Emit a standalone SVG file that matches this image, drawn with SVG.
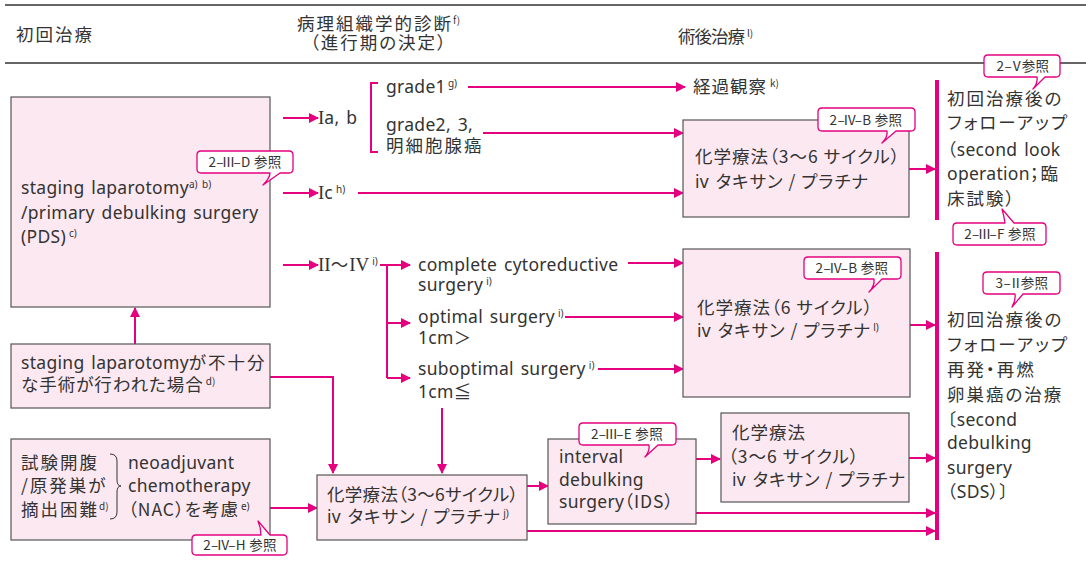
<svg xmlns="http://www.w3.org/2000/svg" width="1086" height="563" viewBox="0 0 1086 563">
<defs>
<style>
text{font-family:"Noto Sans","Noto Sans CJK JP",sans-serif;font-size:17.5px;letter-spacing:0.3px;word-spacing:2px;fill:#333}
.jp{font-family:"Noto Sans CJK JP",sans-serif;font-feature-settings:"palt";letter-spacing:1px;word-spacing:0}
.jw{letter-spacing:2px}
.rn{font-family:"Liberation Serif",serif;font-size:19px;letter-spacing:0}
.sup{font-size:10px;letter-spacing:0}
.co{font-family:"Noto Sans CJK JP",sans-serif;font-feature-settings:"palt";font-size:13.5px;letter-spacing:0.3px;word-spacing:0;fill:#333;text-anchor:middle}
.box{fill:#fce8f0;stroke:#555;stroke-width:1.2}
.callout{fill:#fff;stroke:#e4007f;stroke-width:1.3;stroke-linejoin:round}
.ln{fill:none;stroke:#e4007f;stroke-width:2}
.bar{fill:none;stroke:#e4007f;stroke-width:4}
.arr{marker-end:url(#ah)}
.rule{stroke:#333;fill:none}
</style>
<marker id="ah" viewBox="0 0 10 10" refX="9" refY="5" markerWidth="5" markerHeight="5" orient="auto" markerUnits="strokeWidth">
<path d="M0,0 L10,5 L0,10 Z" fill="#e4007f"/>
</marker>
</defs>
<rect width="1086" height="563" fill="#fff"/>

<g id="header">
<line class="rule" x1="5" y1="5" x2="1086" y2="5" stroke-width="2" style="stroke:#666"/>
<line class="rule" x1="5" y1="63" x2="1086" y2="63" stroke-width="1.3"/>
<text class="jp jw" x="16" y="41">初回治療</text>
<text class="jp jw" x="297" y="30">病理組織学的診断<tspan class="sup" dy="-6">f)</tspan></text>
<text class="jp jw" x="310" y="49">（進行期の決定）</text>
<text class="jp" x="678" y="43" style="letter-spacing:-1px">術後治療<tspan class="sup" dy="-6" dx="3">l)</tspan></text>
</g>

<g id="connectors">
<path class="ln arr" d="M283,118 H318"/>
<path class="ln arr" d="M283,193 H318"/>
<path class="ln arr" d="M283,265 H318"/>
<path class="ln" d="M378,83 H371 V152 H378"/>
<path class="ln arr" d="M468,87 H685"/>
<path class="ln arr" d="M483,133 H683"/>
<path class="ln arr" d="M358,193 H683"/>
<path class="ln arr" d="M909,169 H935"/>
<path class="ln arr" d="M380,265 H410"/>
<path class="ln" d="M387,265 V378"/>
<path class="ln arr" d="M387,323 H410"/>
<path class="ln arr" d="M387,378 H410"/>
<path class="ln arr" d="M628,263 H683"/>
<path class="ln arr" d="M565,317 H683"/>
<path class="ln arr" d="M598,369 H683"/>
<path class="ln arr" d="M910,325 H935"/>
<path class="ln arr" d="M135,344 V308"/>
<path class="ln arr" d="M270,377 H333 V473"/>
<path class="ln arr" d="M442,408 V473"/>
<path class="ln arr" d="M270,508 H317"/>
<path class="ln arr" d="M527,486 H548"/>
<path class="ln arr" d="M696,459 H720"/>
<path class="ln arr" d="M909,458 H935"/>
<path class="ln arr" d="M696,513 H935"/>
<path class="ln arr" d="M527,531 H935"/>
<path class="bar" d="M937,80 V220"/>
<path class="bar" d="M937,252 V540"/>
</g>

<g id="node-pds">
<rect class="box" x="11" y="97" width="259" height="210"/>
<text x="21" y="194">staging laparotomy<tspan class="sup" dy="-6">a) b)</tspan></text>
<text x="21" y="219">/primary debulking surgery</text>
<text x="21" y="243">(PDS)<tspan class="sup" dy="-6" dx="3">c)</tspan></text>
</g>

<g id="node-insufficient">
<rect class="box" x="11" y="344" width="259" height="64"/>
<text x="21" y="369">staging laparotomy<tspan class="jp jw">が不十分</tspan></text>
<text class="jp" x="21" y="391">な手術が行われた場合<tspan class="sup" dy="-6" dx="2">d)</tspan></text>
</g>

<g id="node-nac">
<rect class="box" x="11" y="439" width="259" height="101"/>
<text class="jp jw" x="21" y="469">試験開腹</text>
<text class="jp jw" x="21" y="492">/原発巣が</text>
<text class="jp jw" x="21" y="516">摘出困難<tspan class="sup" dy="-6">d)</tspan></text>
<path d="M110,454 Q117,454 117,461 V480 Q117,486 121,486 Q117,486 117,492 V512 Q117,519 110,519" fill="none" stroke="#333" stroke-width="1"/>
<text x="128" y="469">neoadjuvant</text>
<text x="128" y="492">chemotherapy</text>
<text x="128" y="516"><tspan class="jp">（NAC）を考慮</tspan><tspan class="sup" dy="-6" dx="2">e)</tspan></text>
</g>

<g id="node-stage-ia">
<text x="318" y="124"><tspan class="rn">I</tspan>a, b</text>
<text x="386" y="93">grade1<tspan class="sup" dy="-6" dx="2">g)</tspan></text>
<text x="386" y="131">grade2, 3,</text>
<text class="jp jw" x="386" y="152">明細胞腺癌</text>
</g>
<g id="node-stage-ic"><text x="318" y="199"><tspan class="rn">I</tspan>c<tspan class="sup" dy="-6" dx="3">h)</tspan></text></g>
<g id="node-stage-adv"><text x="318" y="271"><tspan class="rn">II</tspan><tspan class="jp">〜</tspan><tspan class="rn">IV</tspan><tspan class="sup" dy="-6" dx="3">i)</tspan></text></g>

<g id="node-observe"><text class="jp" x="693" y="93">経過観察<tspan class="sup" dy="-6" dx="3">k)</tspan></text></g>

<g id="node-chemo1">
<rect class="box" x="683" y="120" width="226" height="97"/>
<text class="jp" x="695" y="163">化学療法（3〜6 サイクル）</text>
<text x="695" y="188">iv <tspan class="jp">タキサン / プラチナ</tspan></text>
</g>

<g id="node-surgeries">
<text x="418" y="271">complete cytoreductive</text>
<text x="418" y="291">surgery<tspan class="sup" dy="-6" dx="3">i)</tspan></text>
<text x="418" y="323">optimal surgery<tspan class="sup" dy="-6" dx="3">i)</tspan></text>
<text x="418" y="344">1cm<tspan class="jp">＞</tspan></text>
<text x="418" y="375">suboptimal surgery<tspan class="sup" dy="-6" dx="3">i)</tspan></text>
<text x="418" y="398">1cm<tspan class="jp">≦</tspan></text>
</g>

<g id="node-chemo2">
<rect class="box" x="683" y="249" width="227" height="148"/>
<text class="jp" x="697" y="314">化学療法（6 サイクル）</text>
<text x="697" y="337">iv <tspan class="jp">タキサン / プラチナ</tspan><tspan class="sup" dy="-6" dx="2">l)</tspan></text>
</g>

<g id="node-chemo3">
<rect class="box" x="317" y="475" width="210" height="65"/>
<text class="jp" x="327" y="501" style="letter-spacing:0.3px">化学療法（3〜6サイクル）</text>
<text x="327" y="523">iv <tspan class="jp">タキサン / プラチナ</tspan><tspan class="sup" dy="-6" dx="2">j)</tspan></text>
</g>

<g id="node-ids">
<rect class="box" x="548" y="439" width="148" height="85"/>
<text x="559" y="463">interval</text>
<text x="559" y="486">debulking</text>
<text x="559" y="508">surgery<tspan class="jp">（IDS）</tspan></text>
</g>

<g id="node-chemo4">
<rect class="box" x="721" y="413" width="188" height="89"/>
<text class="jp" x="732" y="439">化学療法</text>
<text class="jp" x="728" y="463">（3〜6 サイクル）</text>
<text x="732" y="486">iv <tspan class="jp">タキサン / プラチナ</tspan></text>
</g>

<g id="node-follow1">
<text class="jp jw" x="947" y="105">初回治療後の</text>
<text class="jp jw" x="947" y="129">フォローアップ</text>
<text x="947" y="156"><tspan class="jp">（</tspan>second look</text>
<text x="947" y="180">operation<tspan class="jp jw">；臨</tspan></text>
<text class="jp jw" x="947" y="205">床試験）</text>
</g>

<g id="node-follow2">
<text class="jp jw" x="947" y="326">初回治療後の</text>
<text class="jp jw" x="947" y="351">フォローアップ</text>
<text class="jp jw" x="947" y="376">再発・再燃</text>
<text class="jp jw" x="947" y="401">卵巣癌の治療</text>
<text x="947" y="426"><tspan class="jp">〔</tspan>second</text>
<text x="947" y="449">debulking</text>
<text x="947" y="474">surgery</text>
<text x="947" y="498"><tspan class="jp">（</tspan>SDS<tspan class="jp">）〕</tspan></text>
</g>

<g id="callouts">
<path class="callout" d="M201,151 H289 Q293,151 293,155 V169 Q293,173 289,173 H280 L263,185 Q270,178 270,173 H201 Q197,173 197,169 V155 Q197,151 201,151 Z"/>
<text class="co" x="245" y="167">2–<tspan dx="-2">Ⅲ</tspan><tspan dx="-2">–D 参照</tspan></text>
<path class="callout" d="M822,108 H911 Q915,108 915,112 V127 Q915,131 911,131 H896 L882,143 Q888,137 887,131 H822 Q818,131 818,127 V112 Q818,108 822,108 Z"/>
<text class="co" x="866" y="125">2–<tspan dx="-2">Ⅳ</tspan><tspan dx="-2">–B 参照</tspan></text>
<path class="callout" d="M808,257 H897 Q901,257 901,261 V275 Q901,279 897,279 H882 L869,292 Q875,286 874,279 H808 Q804,279 804,275 V261 Q804,257 808,257 Z"/>
<text class="co" x="852" y="273">2–<tspan dx="-2">Ⅳ</tspan><tspan dx="-2">–B 参照</tspan></text>
<path class="callout" d="M988,55 H1056 Q1060,55 1060,59 V73 Q1060,77 1056,77 H1045 L1033,89 Q1038,83 1037,77 H988 Q984,77 984,73 V59 Q984,55 988,55 Z"/>
<text class="co" x="1023" y="71">2–<tspan dx="-2">Ⅴ</tspan><tspan dx="-2">参照</tspan></text>
<path class="callout" d="M957,223 H1005 Q1004,216 1002,209 L1014,223 H1042 Q1046,223 1046,227 V241 Q1046,245 1042,245 H957 Q953,245 953,241 V227 Q953,223 957,223 Z"/>
<text class="co" x="1000" y="239">2–<tspan dx="-2">Ⅲ</tspan><tspan dx="-2">–F 参照</tspan></text>
<path class="callout" d="M987,272 H1056 Q1060,272 1060,276 V290 Q1060,294 1056,294 H1023 L1012,307 Q1016,300 1015,294 H987 Q983,294 983,290 V276 Q983,272 987,272 Z"/>
<text class="co" x="1022" y="288">3–<tspan dx="-2">Ⅱ</tspan><tspan dx="-2">参照</tspan></text>
<path class="callout" d="M583,423 H672 Q676,423 676,427 V441 Q676,445 672,445 H658 L645,457 Q650,451 649,445 H583 Q579,445 579,441 V427 Q579,423 583,423 Z"/>
<text class="co" x="627" y="439">2–<tspan dx="-2">Ⅲ</tspan><tspan dx="-2">–E 参照</tspan></text>
<path class="callout" d="M196,535 H261 Q261,528 258,521 L270,535 H283 Q287,535 287,539 V551 Q287,555 283,555 H196 Q192,555 192,551 V539 Q192,535 196,535 Z"/>
<text class="co" x="240" y="550">2–<tspan dx="-2">Ⅳ</tspan><tspan dx="-2">–H 参照</tspan></text>
</g>
</svg>
